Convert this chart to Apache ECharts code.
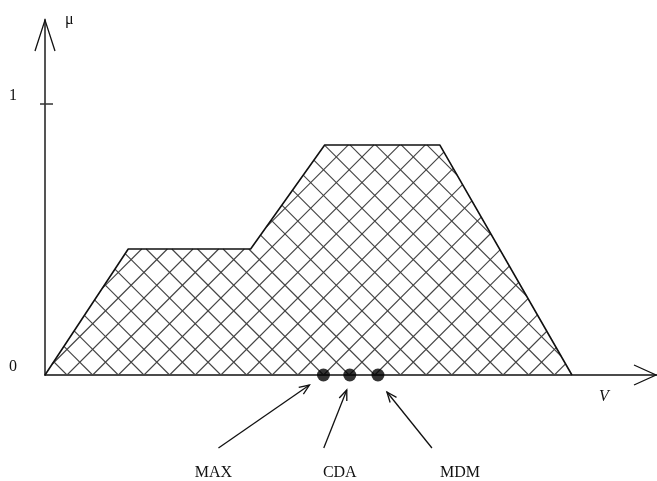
<!DOCTYPE html>
<html>
<head>
<meta charset="utf-8">
<script src="https://cdn.jsdelivr.net/npm/echarts@6/dist/echarts.min.js"></script>
<style>
  html, body { margin: 0; padding: 0; background: #ffffff; }
  #chart { width: 657px; height: 481px; }
</style>
</head>
<body>
<div id="chart"></div>
<script>
// Fuzzy output set: breakpoints of the membership function mu(V)
const vNodes = [0, 1.36, 3.36, 4.57, 6.45, 8.61];
const muNodes = [0, 0.465, 0.465, 0.849, 0.849, 0];

// Defuzzified values on the V axis
const methodNames = ['MAX', 'CDA', 'MDM'];
const methodValues = [4.55, 4.98, 5.44];

// Axis ticks
const muTicks = [0, 1];

const SERIF = '"Liberation Serif", "Times New Roman", serif';
const INK = '#111111';

// Cross-hatch geometry (pixels): diagonal spacing and phase along the baseline
const HATCH_STEP = 25.65;
const HATCH_PHASE = 22;

function arrowHead(tip, from, len, spread) {
  const ang = Math.atan2(from[1] - tip[1], from[0] - tip[0]);
  const a1 = ang + spread, a2 = ang - spread;
  return [
    [tip[0] + len * Math.cos(a1), tip[1] + len * Math.sin(a1)],
    tip,
    [tip[0] + len * Math.cos(a2), tip[1] + len * Math.sin(a2)]
  ];
}

// Annotation layout: pixel offsets from each marker (tip, tail, label)
const annot = [
  { tip: [-14, 10], tail: [-105, 73], label: [-110, 98] },
  { tip: [-3, 15], tail: [-26, 73], label: [-10, 98] },
  { tip: [9, 17], tail: [54, 73], label: [82, 98] }
];

// Clip two families of 45-degree lines against the membership polygon
function hatchLines(pts, anchor) {
  const out = [];
  const families = [[1, 1], [1, -1]];
  for (const n of families) {
    const vals = pts.map(q => n[0] * q[0] + n[1] * q[1]);
    const lo = Math.min.apply(null, vals), hi = Math.max.apply(null, vals);
    const base = n[0] * anchor[0] + n[1] * anchor[1];
    const k0 = Math.ceil((lo - base) / HATCH_STEP);
    const k1 = Math.floor((hi - base) / HATCH_STEP);
    for (let k = k0; k <= k1; k++) {
      const s = base + k * HATCH_STEP;
      const hits = [];
      for (let i = 0; i < pts.length; i++) {
        const j = (i + 1) % pts.length;
        const fa = vals[i] - s, fb = vals[j] - s;
        if ((fa < 0) !== (fb < 0)) {
          const t = fa / (fa - fb);
          hits.push([pts[i][0] + t * (pts[j][0] - pts[i][0]), pts[i][1] + t * (pts[j][1] - pts[i][1])]);
        }
      }
      hits.sort((a, b) => a[0] - b[0]);
      for (let h = 0; h + 1 < hits.length; h += 2) {
        out.push({
          type: 'line',
          shape: { x1: hits[h][0], y1: hits[h][1], x2: hits[h + 1][0], y2: hits[h + 1][1] },
          style: { stroke: '#444444', lineWidth: 1.1 }
        });
      }
    }
  }
  return out;
}

const chart = echarts.init(document.getElementById('chart'), null, { renderer: 'canvas' });

const option = {
  backgroundColor: '#ffffff',
  animation: false,
  grid: { left: 45, right: 0, top: 20, bottom: 106 },
  xAxis: {
    type: 'value', min: 0, max: 10,
    name: 'V', nameLocation: 'end', nameGap: -58,
    nameTextStyle: {
      fontFamily: SERIF, fontStyle: 'italic', fontSize: 16, color: INK,
      verticalAlign: 'top', padding: [14, 0, 0, 0]
    },
    axisLine: { show: true, lineStyle: { color: INK, width: 1.5 } },
    axisTick: { show: false },
    axisLabel: { show: false },
    splitLine: { show: false }
  },
  yAxis: {
    type: 'value', min: 0, max: 1.31,
    name: 'μ', nameLocation: 'end', nameGap: 0,
    nameTextStyle: {
      fontFamily: SERIF, fontSize: 16, color: INK,
      align: 'left', verticalAlign: 'middle', padding: [6, 0, 0, 20]
    },
    axisLine: { show: true, lineStyle: { color: '#555555', width: 2 } },
    axisTick: { show: false },
    axisLabel: {
      customValues: muTicks,
      fontFamily: SERIF, fontSize: 16, color: INK,
      align: 'center', verticalAlign: 'bottom', margin: 32
    },
    splitLine: { show: false }
  },
  series: [
    {
      // hatched interior of the fuzzy set
      type: 'custom',
      coordinateSystem: 'cartesian2d',
      data: [[0, 0]],
      clip: false,
      silent: true,
      z: 1,
      renderItem: function (params, api) {
        const pts = vNodes.map((v, i) => api.coord([v, muNodes[i]]));
        const o = api.coord([0, 0]);
        return { type: 'group', children: hatchLines(pts, [o[0] + HATCH_PHASE, o[1]]) };
      }
    },
    {
      type: 'line',
      data: vNodes.map((v, i) => [v, muNodes[i]]),
      symbol: 'none',
      lineStyle: { color: INK, width: 1.6 },
      z: 2
    },
    {
      type: 'custom',
      coordinateSystem: 'cartesian2d',
      data: [[0, 0]],
      clip: false,
      z: 3,
      renderItem: function (params, api) {
        const yTip = api.coord([0, 1.31]);
        const xTip = api.coord([10, 0]);
        const one = api.coord([0, 1]);
        return {
          type: 'group',
          children: [
            { type: 'polyline', shape: { points: [[yTip[0] - 10, yTip[1] + 31], yTip, [yTip[0] + 10, yTip[1] + 31]] },
              style: { stroke: INK, lineWidth: 1.3, fill: null } },
            { type: 'polyline', shape: { points: [[xTip[0] - 23, xTip[1] - 10], [xTip[0] - 1, xTip[1]], [xTip[0] - 23, xTip[1] + 10]] },
              style: { stroke: INK, lineWidth: 1.3, fill: null } },
            { type: 'line', shape: { x1: one[0] - 5, y1: one[1], x2: one[0] + 8, y2: one[1] },
              style: { stroke: '#333333', lineWidth: 1.5 } }
          ]
        };
      }
    },
    {
      type: 'custom',
      coordinateSystem: 'cartesian2d',
      data: methodValues.map((v, i) => [v, 0, i]),
      clip: false,
      z: 4,
      renderItem: function (params, api) {
        const p = api.coord([api.value(0), 0]);
        const a = annot[params.dataIndex];
        const tip = [p[0] + a.tip[0], p[1] + a.tip[1]];
        const tail = [p[0] + a.tail[0], p[1] + a.tail[1]];
        return {
          type: 'group',
          children: [
            { type: 'line', shape: { x1: tail[0], y1: tail[1], x2: tip[0], y2: tip[1] },
              style: { stroke: INK, lineWidth: 1.3 } },
            { type: 'polyline', shape: { points: arrowHead(tip, tail, 11, 0.38) },
              style: { stroke: INK, lineWidth: 1.3, fill: null } },
            { type: 'text', style: {
                text: methodNames[params.dataIndex],
                x: p[0] + a.label[0], y: p[1] + a.label[1],
                align: 'center', verticalAlign: 'middle',
                font: '16px ' + SERIF, fill: INK } }
          ]
        };
      }
    },
    {
      type: 'scatter',
      data: methodValues.map(v => [v, 0]),
      symbol: 'circle',
      symbolSize: 13,
      itemStyle: { color: '#000000' },
      clip: false,
      z: 5
    }
  ]
};

chart.setOption(option);
</script>
</body>
</html>
